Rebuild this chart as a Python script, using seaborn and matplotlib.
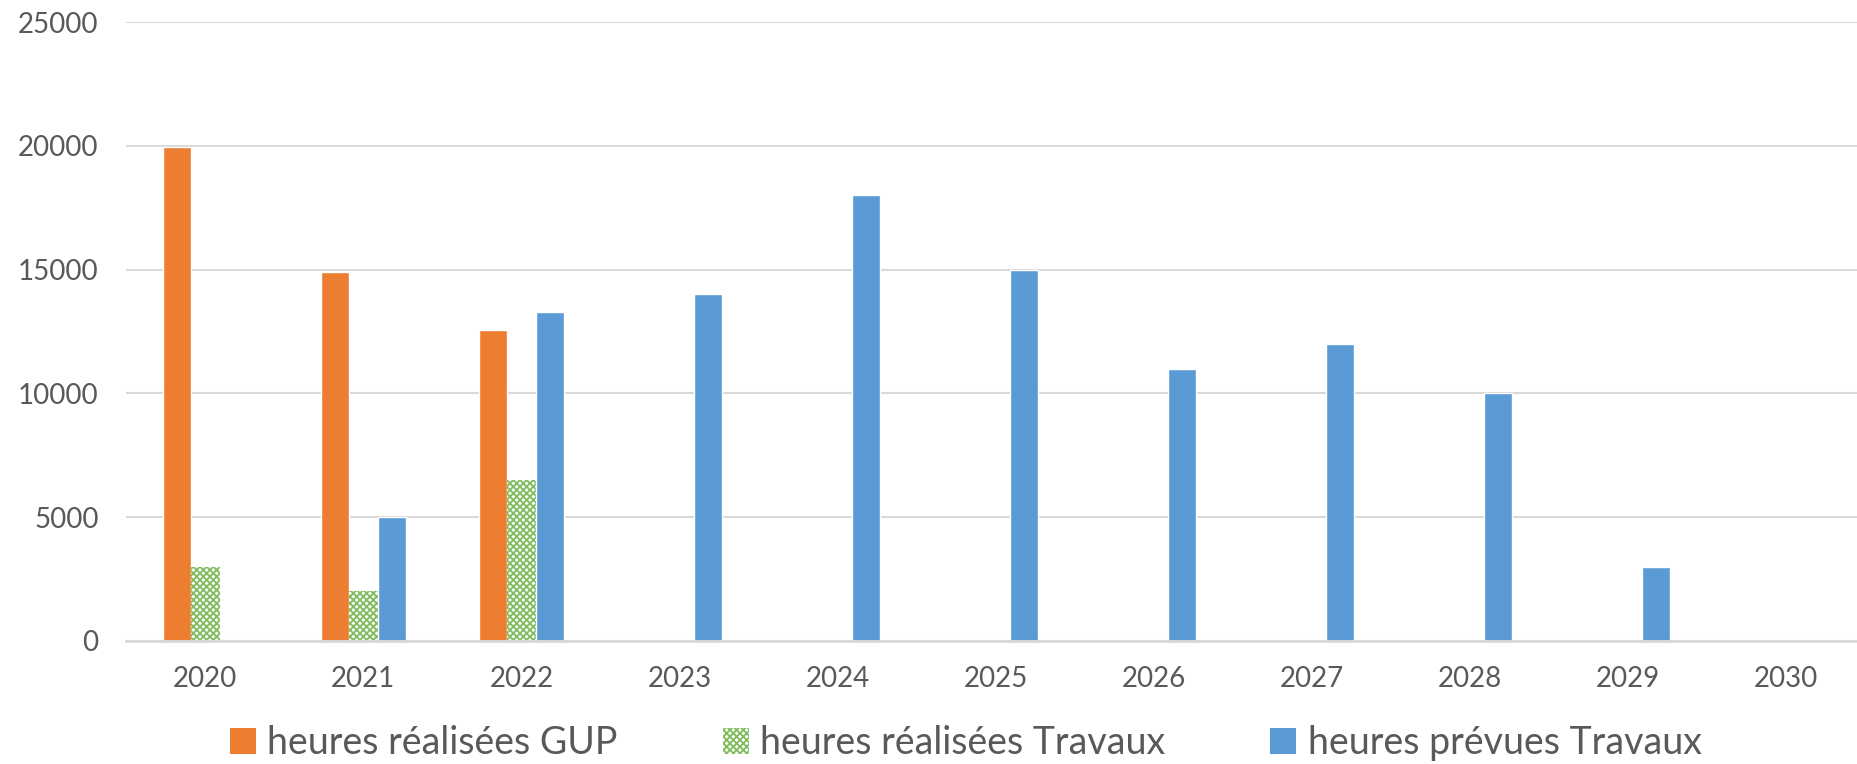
import pandas as pd
import matplotlib.pyplot as plt
import seaborn as sns
from matplotlib.patches import Patch

# Data
years = [str(y) for y in range(2020, 2031)]
gup_years = ["2020", "2021", "2022"]
gup_hours = [19950, 14900, 12550]
trav_real_years = ["2020", "2021", "2022"]
trav_real_hours = [3000, 2000, 6500]
trav_prev_years = ["2021", "2022", "2023", "2024", "2025", "2026", "2027", "2028", "2029"]
trav_prev_hours = [5000, 13300, 14000, 18000, 15000, 11000, 12000, 10000, 3000]

series_names = ["heures réalisées GUP", "heures réalisées Travaux", "heures prévues Travaux"]
colors = ["#ed7d31", "#70ad47", "#5b9bd5"]

rows = []
for y, v in zip(gup_years, gup_hours):
    rows.append((y, v, series_names[0]))
for y, v in zip(trav_real_years, trav_real_hours):
    rows.append((y, v, series_names[1]))
for y, v in zip(trav_prev_years, trav_prev_hours):
    rows.append((y, v, series_names[2]))
df = pd.DataFrame(rows, columns=["year", "hours", "series"])

sns.set_style("white")
plt.rcParams["font.family"] = ["Lato", "DejaVu Sans"]
plt.rcParams["hatch.linewidth"] = 1.3

fig = plt.figure(figsize=(18.57, 7.64), dpi=100)
ax = fig.add_axes([0.068, 0.161, 0.932, 0.81])

sns.barplot(data=df, x="year", y="hours", hue="series", order=years,
            hue_order=series_names, palette=colors, width=0.54,
            saturation=1, ax=ax, legend=False)

# pattern fill for the "réalisées Travaux" bars
hatch_color = "#7fbb5a"
for bar in ax.containers[1]:
    bar.set_facecolor("white")
    bar.set_edgecolor(hatch_color)
    bar.set_hatch("xxxxx")
    bar.set_linewidth(0)

ax.set_ylim(0, 25000)
ax.set_xlim(-0.5, 10.45)
ax.set_yticks(range(0, 25001, 5000))
ax.yaxis.grid(True, color="#d9d9d9", linewidth=1.5)
ax.set_axisbelow(True)
for side in ["top", "right", "left"]:
    ax.spines[side].set_visible(False)
ax.spines["bottom"].set_color("#d9d9d9")
ax.spines["bottom"].set_linewidth(2)
ax.set_xlabel("")
ax.set_ylabel("")
ax.tick_params(axis="both", length=0, labelsize=20, labelcolor="#595959")
ax.tick_params(axis="y", pad=20)
ax.tick_params(axis="x", pad=18)

handles = [
    Patch(facecolor=colors[0], edgecolor="none"),
    Patch(facecolor="white", edgecolor=hatch_color, hatch="xxxxx", linewidth=0),
    Patch(facecolor=colors[2], edgecolor="none"),
]
fig.legend(handles, series_names, loc="center", bbox_to_anchor=(0.52, 0.027),
           ncol=3, frameon=False, fontsize=27, labelcolor="#595959",
           handlelength=0.7, handleheight=0.7, handletextpad=0.3, columnspacing=2.8)

plt.savefig("out.png", dpi=100)
plt.close()
